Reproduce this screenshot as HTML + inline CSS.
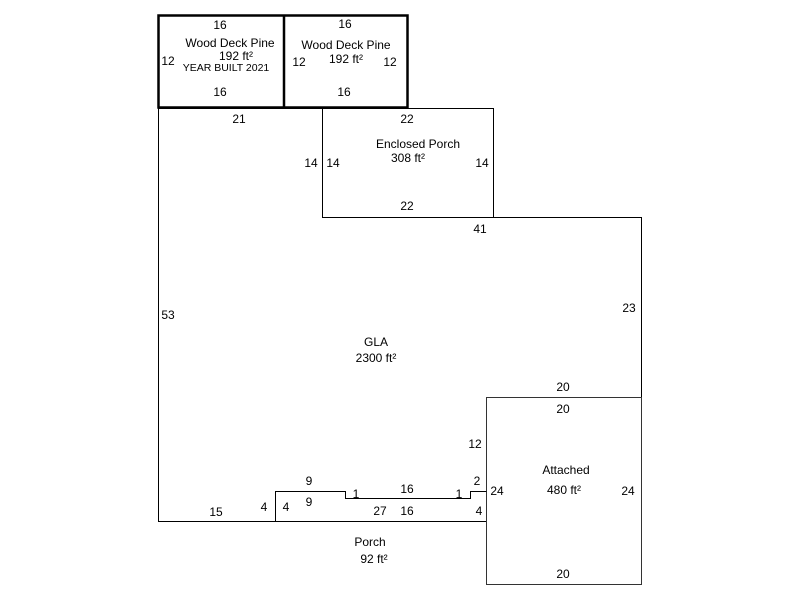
<!DOCTYPE html>
<html><head><style>body{margin:0;background:#fff}svg{display:block}text{font-family:"Liberation Sans",Arial,sans-serif;font-size:12px;fill:#000}</style></head>
<body>
<svg width="800" height="600" viewBox="0 0 800 600">
<g fill="none" stroke="#000" stroke-width="1">
<polygon points="158.5,108.5 322.5,108.5 322.5,217.5 641.5,217.5 641.5,397.5 486.5,397.5 486.5,521.5 158.5,521.5"/>
<rect x="322.5" y="108.5" width="171" height="109"/>
<rect x="486.5" y="397.5" width="155" height="187" stroke="#333"/>
<polyline points="275.5,521.5 275.5,491.5 345.5,491.5 345.5,498.5 470.5,498.5 470.5,491.5 486.5,491.5"/>
</g>
<g fill="none" stroke="#000" stroke-width="2.5">
<rect x="158.5" y="15.5" width="249" height="92"/>
<line x1="284" y1="15" x2="284" y2="108"/>
</g>
<g text-anchor="middle">
<text x="220" y="29">16</text>
<text x="230" y="47">Wood Deck Pine</text>
<text x="236" y="60">192 ft²</text>
<text x="226" y="71" style="font-size:10.5px">YEAR BUILT 2021</text>
<text x="168" y="65">12</text>
<text x="220" y="96">16</text>
<text x="345" y="28">16</text>
<text x="346" y="49">Wood Deck Pine</text>
<text x="346" y="63">192 ft²</text>
<text x="299" y="66">12</text>
<text x="390" y="66">12</text>
<text x="344" y="96">16</text>
<text x="239" y="123">21</text>
<text x="407" y="123">22</text>
<text x="418" y="148">Enclosed Porch</text>
<text x="408" y="162">308 ft²</text>
<text x="311" y="167">14</text>
<text x="333" y="167">14</text>
<text x="482" y="167">14</text>
<text x="407" y="210">22</text>
<text x="480" y="233">41</text>
<text x="168" y="319">53</text>
<text x="629" y="312">23</text>
<text x="376" y="346">GLA</text>
<text x="376" y="362">2300 ft²</text>
<text x="563" y="391">20</text>
<text x="563" y="413">20</text>
<text x="475" y="448">12</text>
<text x="566" y="474">Attached</text>
<text x="564" y="494">480 ft²</text>
<text x="628" y="495">24</text>
<text x="497" y="495">24</text>
<text x="309" y="485">9</text>
<text x="309" y="506">9</text>
<text x="356" y="498">1</text>
<text x="407" y="493">16</text>
<text x="459" y="498">1</text>
<text x="477" y="485">2</text>
<text x="216" y="516">15</text>
<text x="264" y="511">4</text>
<text x="286" y="511">4</text>
<text x="380" y="515">27</text>
<text x="407" y="515">16</text>
<text x="479" y="515">4</text>
<text x="370" y="546">Porch</text>
<text x="374" y="563">92 ft²</text>
<text x="563" y="578">20</text>
</g>
</svg>
</body></html>
